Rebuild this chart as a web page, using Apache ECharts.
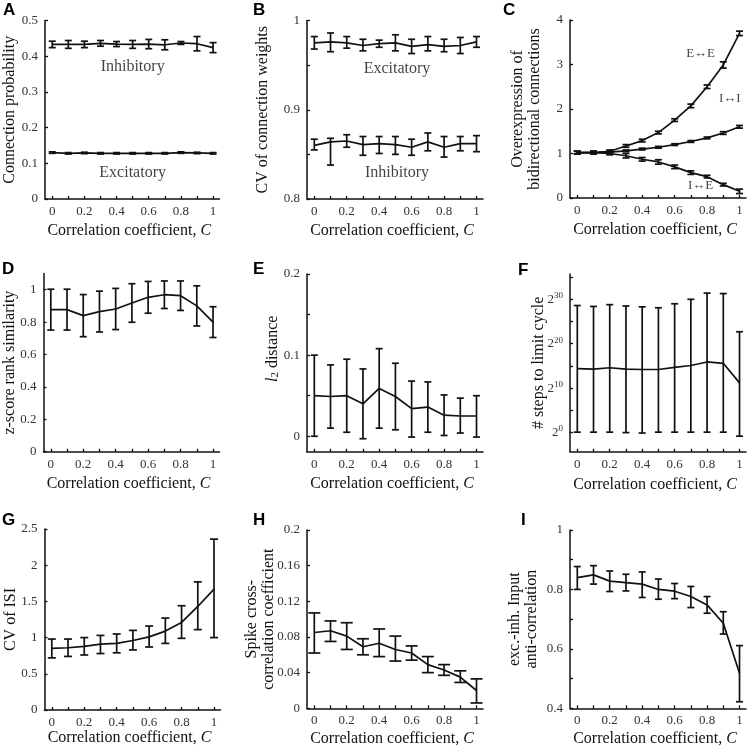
<!DOCTYPE html>
<html>
<head>
<meta charset="utf-8">
<script src="https://cdn.jsdelivr.net/npm/echarts@6/dist/echarts.min.js"></script>
<style>
  html, body { margin: 0; background: #fff; }
  #chart { width: 750px; height: 749px; }
</style>
</head>
<body>
<div id="chart"></div>
<script>
// correlation coefficient C (shared x values)
const corr = [0, 0.1, 0.2, 0.3, 0.4, 0.5, 0.6, 0.7, 0.8, 0.9, 1];
const xTicks = [0, 0.1, 0.2, 0.3, 0.4, 0.5, 0.6, 0.7, 0.8, 0.9, 1];
const xLabels = [0, 0.2, 0.4, 0.6, 0.8, 1];

// A: connection probability
const aInh = [0.433, 0.433, 0.433, 0.436, 0.434, 0.433, 0.434, 0.432, 0.437, 0.435, 0.424];
const aInhErr = [0.009, 0.011, 0.009, 0.008, 0.007, 0.011, 0.013, 0.014, 0.004, 0.020, 0.014];
const aExc = [0.130, 0.128, 0.129, 0.128, 0.128, 0.128, 0.128, 0.128, 0.130, 0.129, 0.128];
const aExcErr = [0.002, 0.002, 0.002, 0.002, 0.002, 0.002, 0.002, 0.002, 0.002, 0.002, 0.002];

// B: CV of connection weights
const bExc = [0.975, 0.976, 0.975, 0.972, 0.974, 0.975, 0.971, 0.973, 0.971, 0.972, 0.976];
const bExcLo = [0.968, 0.965, 0.969, 0.966, 0.970, 0.966, 0.963, 0.966, 0.965, 0.963, 0.970];
const bExcHi = [0.982, 0.986, 0.982, 0.979, 0.978, 0.984, 0.979, 0.982, 0.979, 0.981, 0.982];
const bInh = [0.860, 0.864, 0.865, 0.861, 0.862, 0.861, 0.858, 0.864, 0.858, 0.862, 0.862];
const bInhLo = [0.855, 0.838, 0.858, 0.849, 0.851, 0.850, 0.849, 0.854, 0.847, 0.854, 0.853];
const bInhHi = [0.867, 0.868, 0.872, 0.870, 0.870, 0.870, 0.867, 0.874, 0.870, 0.870, 0.871];

// C: overexpression of bidirectional connections
const cEE = [1.02, 1.02, 1.05, 1.17, 1.29, 1.47, 1.75, 2.07, 2.50, 2.99, 3.70];
const cEEErr = [0.03, 0.03, 0.03, 0.03, 0.03, 0.03, 0.03, 0.04, 0.04, 0.07, 0.05];
const cII = [1.02, 1.02, 1.03, 1.06, 1.10, 1.14, 1.20, 1.27, 1.35, 1.46, 1.60];
const cIIErr = [0.03, 0.03, 0.02, 0.02, 0.02, 0.02, 0.02, 0.02, 0.02, 0.03, 0.03];
const cIE = [1.02, 1.02, 1.00, 0.95, 0.87, 0.81, 0.70, 0.57, 0.48, 0.30, 0.15];
const cIEErr = [0.03, 0.03, 0.03, 0.05, 0.04, 0.05, 0.04, 0.04, 0.03, 0.03, 0.05];

// D: z-score rank similarity
const dMean = [0.877, 0.877, 0.840, 0.865, 0.881, 0.918, 0.953, 0.969, 0.963, 0.900, 0.800];
const dErr = [0.126, 0.126, 0.130, 0.126, 0.127, 0.119, 0.098, 0.085, 0.091, 0.124, 0.095];

// E: l2 distance
const eMean = [0.050, 0.049, 0.050, 0.040, 0.059, 0.049, 0.034, 0.036, 0.026, 0.025, 0.025];
const eLo = [0.000, 0.010, 0.005, -0.003, 0.010, 0.008, -0.001, 0.005, 0.001, 0.004, -0.001];
const eHi = [0.100, 0.088, 0.095, 0.083, 0.108, 0.090, 0.068, 0.067, 0.051, 0.047, 0.050];

// F: steps to limit cycle (log2)
const fMean = [14.4, 14.3, 14.6, 14.3, 14.2, 14.2, 14.7, 15.1, 15.9, 15.6, 11.2];
const fLo = [0.1, 0.1, 0.1, 0.0, -0.1, 0.1, 0.1, 0.1, 0.1, 0.1, -0.8];
const fHi = [28.6, 28.4, 28.8, 28.5, 28.3, 28.1, 29.0, 30.0, 31.4, 31.3, 22.7];

// G: CV of ISI
const gMean = [0.85, 0.86, 0.88, 0.91, 0.92, 0.96, 1.01, 1.09, 1.21, 1.43, 1.67];
const gLo = [0.72, 0.74, 0.76, 0.78, 0.79, 0.83, 0.87, 0.92, 0.99, 1.11, 1.00];
const gHi = [0.98, 0.98, 1.00, 1.03, 1.05, 1.10, 1.16, 1.27, 1.44, 1.77, 2.36];

// H: spike cross-correlation coefficient
const hMean = [0.085, 0.087, 0.081, 0.069, 0.073, 0.066, 0.062, 0.049, 0.043, 0.035, 0.020];
const hLo = [0.062, 0.075, 0.066, 0.060, 0.058, 0.053, 0.054, 0.040, 0.037, 0.029, 0.006];
const hHi = [0.107, 0.098, 0.096, 0.078, 0.089, 0.081, 0.070, 0.058, 0.049, 0.042, 0.033];

// I: exc.-inh. input anti-correlation
const iMean = [0.840, 0.849, 0.828, 0.823, 0.818, 0.800, 0.794, 0.776, 0.748, 0.686, 0.518];
const iLo = [0.800, 0.818, 0.793, 0.795, 0.773, 0.767, 0.769, 0.739, 0.720, 0.650, 0.422];
const iHi = [0.877, 0.880, 0.862, 0.851, 0.859, 0.835, 0.820, 0.810, 0.776, 0.725, 0.611];

const SERIF = 'Liberation Serif, Times New Roman, serif';
const INK = '#111';
const X_MIN = -0.045;
const X_MAX = 1.04;
const PW = 176;

const addErr = (m, e, s) => m.map((v, i) => +(v + s * e[i]).toFixed(4));
const fmt = v => String(Math.round(v * 1000) / 1000);

// panel layout: grid box, y axis, title gaps
const panels = [
  { left: 43.5, top: 20.5, height: 178.5, yMin: 0, yMax: 0.5, yTicks: [0, 0.1, 0.2, 0.3, 0.4, 0.5], yLabels: [0, 0.1, 0.2, 0.3, 0.4, 0.5],
    yName: 'Connection probability', yGap: 27, xGap: 23 },
  { left: 307, top: 20.5, height: 178.5, yMin: 0.8, yMax: 1, yTicks: [0.8, 0.85, 0.9, 0.95, 1], yLabels: [0.8, 0.9, 1],
    yName: 'CV of connection weights', yGap: 35.5, xGap: 23 },
  { left: 570, top: 20, height: 178, yMin: 0, yMax: 4, yTicks: [0, 1, 2, 3, 4], yLabels: [0, 1, 2, 3, 4],
    yName: 'Overexpression of\nbidirectional connections', yGap: 26.5, xGap: 23 },
  { left: 43.5, top: 273.5, height: 178.2, yMin: 0, yMax: 1.1, yTicks: [0, 0.2, 0.4, 0.6, 0.8, 1], yLabels: [0, 0.2, 0.4, 0.6, 0.8, 1],
    yName: 'z-score rank similarity', yGap: 25.5, xGap: 23.5 },
  { left: 307, top: 274, height: 177.7, yMin: -0.019, yMax: 0.2, yTicks: [0, 0.05, 0.1, 0.15, 0.2], yLabels: [0, 0.1, 0.2],
    yName: '{i|l}{sub|2} distance', yGap: 26, namePad: [0, 0, 0, 28], xGap: 23.5 },
  { left: 570, top: 274, height: 177.7, yMin: -4.3, yMax: 35.7, yTicks: [0, 5, 10, 15, 20, 25, 30, 35], yLabels: [0, 10, 20, 30],
    yName: '# steps to limit cycle', yGap: 22.5, xGap: 25, pow2: true },
  { left: 44.5, top: 529, height: 181, yMin: 0, yMax: 2.5, yTicks: [0, 0.5, 1, 1.5, 2, 2.5], yLabels: [0, 0.5, 1, 1.5, 2, 2.5],
    yName: 'CV of ISI', yGap: 25, xGap: 19.5 },
  { left: 307, top: 530, height: 178.3, yMin: 0, yMax: 0.2, yTicks: [0, 0.04, 0.08, 0.12, 0.16, 0.2], yLabels: [0, 0.04, 0.08, 0.12, 0.16, 0.2],
    yName: 'Spike cross-\ncorrelation coefficient', yGap: 30, xGap: 21.5 },
  { left: 570, top: 530, height: 178.3, yMin: 0.4, yMax: 1, yTicks: [0.4, 0.5, 0.6, 0.7, 0.8, 0.9, 1], yLabels: [0.4, 0.6, 0.8, 1],
    yName: 'exc.-inh. Input\nanti-correlation', yGap: 29.5, xGap: 21.5 }
];
const letters = [
  ['A', 3, 2], ['B', 253, 2], ['C', 503, 2],
  ['D', 2, 261], ['E', 253, 261], ['F', 518, 262],
  ['G', 2, 512], ['H', 253, 512], ['I', 521, 512]
];

const axisLine = { onZero: false, lineStyle: { color: INK, width: 1.5 } };
const labelStyle = { fontFamily: SERIF, fontSize: 13, color: '#333' };
const nameStyle = { fontFamily: SERIF, fontSize: 16, color: INK, lineHeight: 17,
  rich: { i: { fontStyle: 'italic', fontFamily: SERIF, fontSize: 16, color: INK },
          sub: { fontFamily: SERIF, fontSize: 11, color: INK, verticalAlign: 'bottom', padding: [6, 0, 0, 0] } } };

const grid = panels.map(p => ({ left: p.left, top: p.top, width: PW, height: p.height }));
const xAxis = panels.map((p, k) => ({
  type: 'value', gridIndex: k, min: X_MIN, max: X_MAX,
  axisLine,
  axisTick: { inside: true, length: 3, customValues: xTicks, lineStyle: { color: INK, width: 1.3 } },
  axisLabel: { ...labelStyle, margin: 6, customValues: xLabels, formatter: fmt },
  splitLine: { show: false },
  name: 'Correlation coefficient, {i|C}', nameLocation: 'middle', nameGap: p.xGap, nameMoveOverlap: false,
  nameTextStyle: { ...nameStyle, padding: [0, 6, 0, 0] }
}));
const yAxis = panels.map((p, k) => ({
  type: 'value', gridIndex: k, min: p.yMin, max: p.yMax,
  axisLine,
  axisTick: { show: true, inside: true, length: 3, customValues: p.yTicks, lineStyle: { color: INK, width: 1.3 } },
  axisLabel: {
    ...labelStyle, margin: 7, customValues: p.yLabels,
    formatter: p.pow2 ? (v => '2{sup|' + v + '}') : fmt,
    rich: { sup: { fontFamily: SERIF, fontSize: 9, color: '#333', verticalAlign: 'top', padding: [0, 0, 7, 0] } }
  },
  splitLine: { show: false },
  name: p.yName, nameLocation: 'middle', nameGap: p.yGap, nameMoveOverlap: false,
  nameTextStyle: p.namePad ? { ...nameStyle, padding: p.namePad } : nameStyle
}));

function line(k, ys) {
  return {
    type: 'line', xAxisIndex: k, yAxisIndex: k, data: corr.map((c, i) => [c, ys[i]]),
    showSymbol: false, symbol: 'none', lineStyle: { color: INK, width: 1.7 }, z: 2, silent: true
  };
}
function errorBars(k, lows, highs, cap) {
  return {
    type: 'custom', xAxisIndex: k, yAxisIndex: k, silent: true, z: 3, clip: false,
    data: corr.map((c, i) => [c, lows[i], highs[i]]),
    encode: { x: 0, y: [1, 2] },
    renderItem: (params, api) => {
      const lo = api.coord([api.value(0), api.value(1)]);
      const hi = api.coord([api.value(0), api.value(2)]);
      const style = { stroke: INK, lineWidth: 1.7, fill: null };
      return {
        type: 'group', children: [
          { type: 'line', shape: { x1: lo[0], y1: lo[1], x2: hi[0], y2: hi[1] }, style },
          { type: 'line', shape: { x1: lo[0] - cap, y1: lo[1], x2: lo[0] + cap, y2: lo[1] }, style },
          { type: 'line', shape: { x1: hi[0] - cap, y1: hi[1], x2: hi[0] + cap, y2: hi[1] }, style }
        ]
      };
    }
  };
}
function note(k, items, size) {
  return {
    type: 'scatter', xAxisIndex: k, yAxisIndex: k, symbolSize: 0, silent: true, z: 4,
    data: items,
    label: { show: true, position: 'inside', formatter: p => p.data[2], fontFamily: SERIF, fontSize: size, color: INK }
  };
}

const series = [
  line(0, aInh), errorBars(0, addErr(aInh, aInhErr, -1), addErr(aInh, aInhErr, 1), 3.5),
  line(0, aExc), errorBars(0, addErr(aExc, aExcErr, -1), addErr(aExc, aExcErr, 1), 3.5),
  note(0, [[0.5, 0.371, 'Inhibitory'], [0.5, 0.073, 'Excitatory']], 16),

  line(1, bExc), errorBars(1, bExcLo, bExcHi, 3.5),
  line(1, bInh), errorBars(1, bInhLo, bInhHi, 3.5),
  note(1, [[0.51, 0.946, 'Excitatory'], [0.51, 0.829, 'Inhibitory']], 16),

  line(2, cEE), errorBars(2, addErr(cEE, cEEErr, -1), addErr(cEE, cEEErr, 1), 3.5),
  line(2, cII), errorBars(2, addErr(cII, cIIErr, -1), addErr(cII, cIIErr, 1), 3.5),
  line(2, cIE), errorBars(2, addErr(cIE, cIEErr, -1), addErr(cIE, cIEErr, 1), 3.5),
  note(2, [[0.76, 3.25, 'E↔E'], [0.94, 2.24, 'I↔I'], [0.76, 0.29, 'I↔E']], 13),

  line(3, dMean), errorBars(3, addErr(dMean, dErr, -1), addErr(dMean, dErr, 1), 3.5),
  line(4, eMean), errorBars(4, eLo, eHi, 3.5),
  line(5, fMean), errorBars(5, fLo, fHi, 3.5),
  line(6, gMean), errorBars(6, gLo, gHi, 4),
  line(7, hMean), errorBars(7, hLo, hHi, 6),
  line(8, iMean), errorBars(8, iLo, iHi, 3.5)
];

const graphic = letters.map(([t, x, y]) => ({
  type: 'text', left: x, top: y,
  style: { text: t, font: 'bold 17px "Liberation Sans", Arial, sans-serif', fill: '#000' }
}));

const chart = echarts.init(document.getElementById('chart'));
chart.setOption({
  animation: false,
  backgroundColor: '#fff',
  grid, xAxis, yAxis, series, graphic
});
</script>
</body>
</html>
